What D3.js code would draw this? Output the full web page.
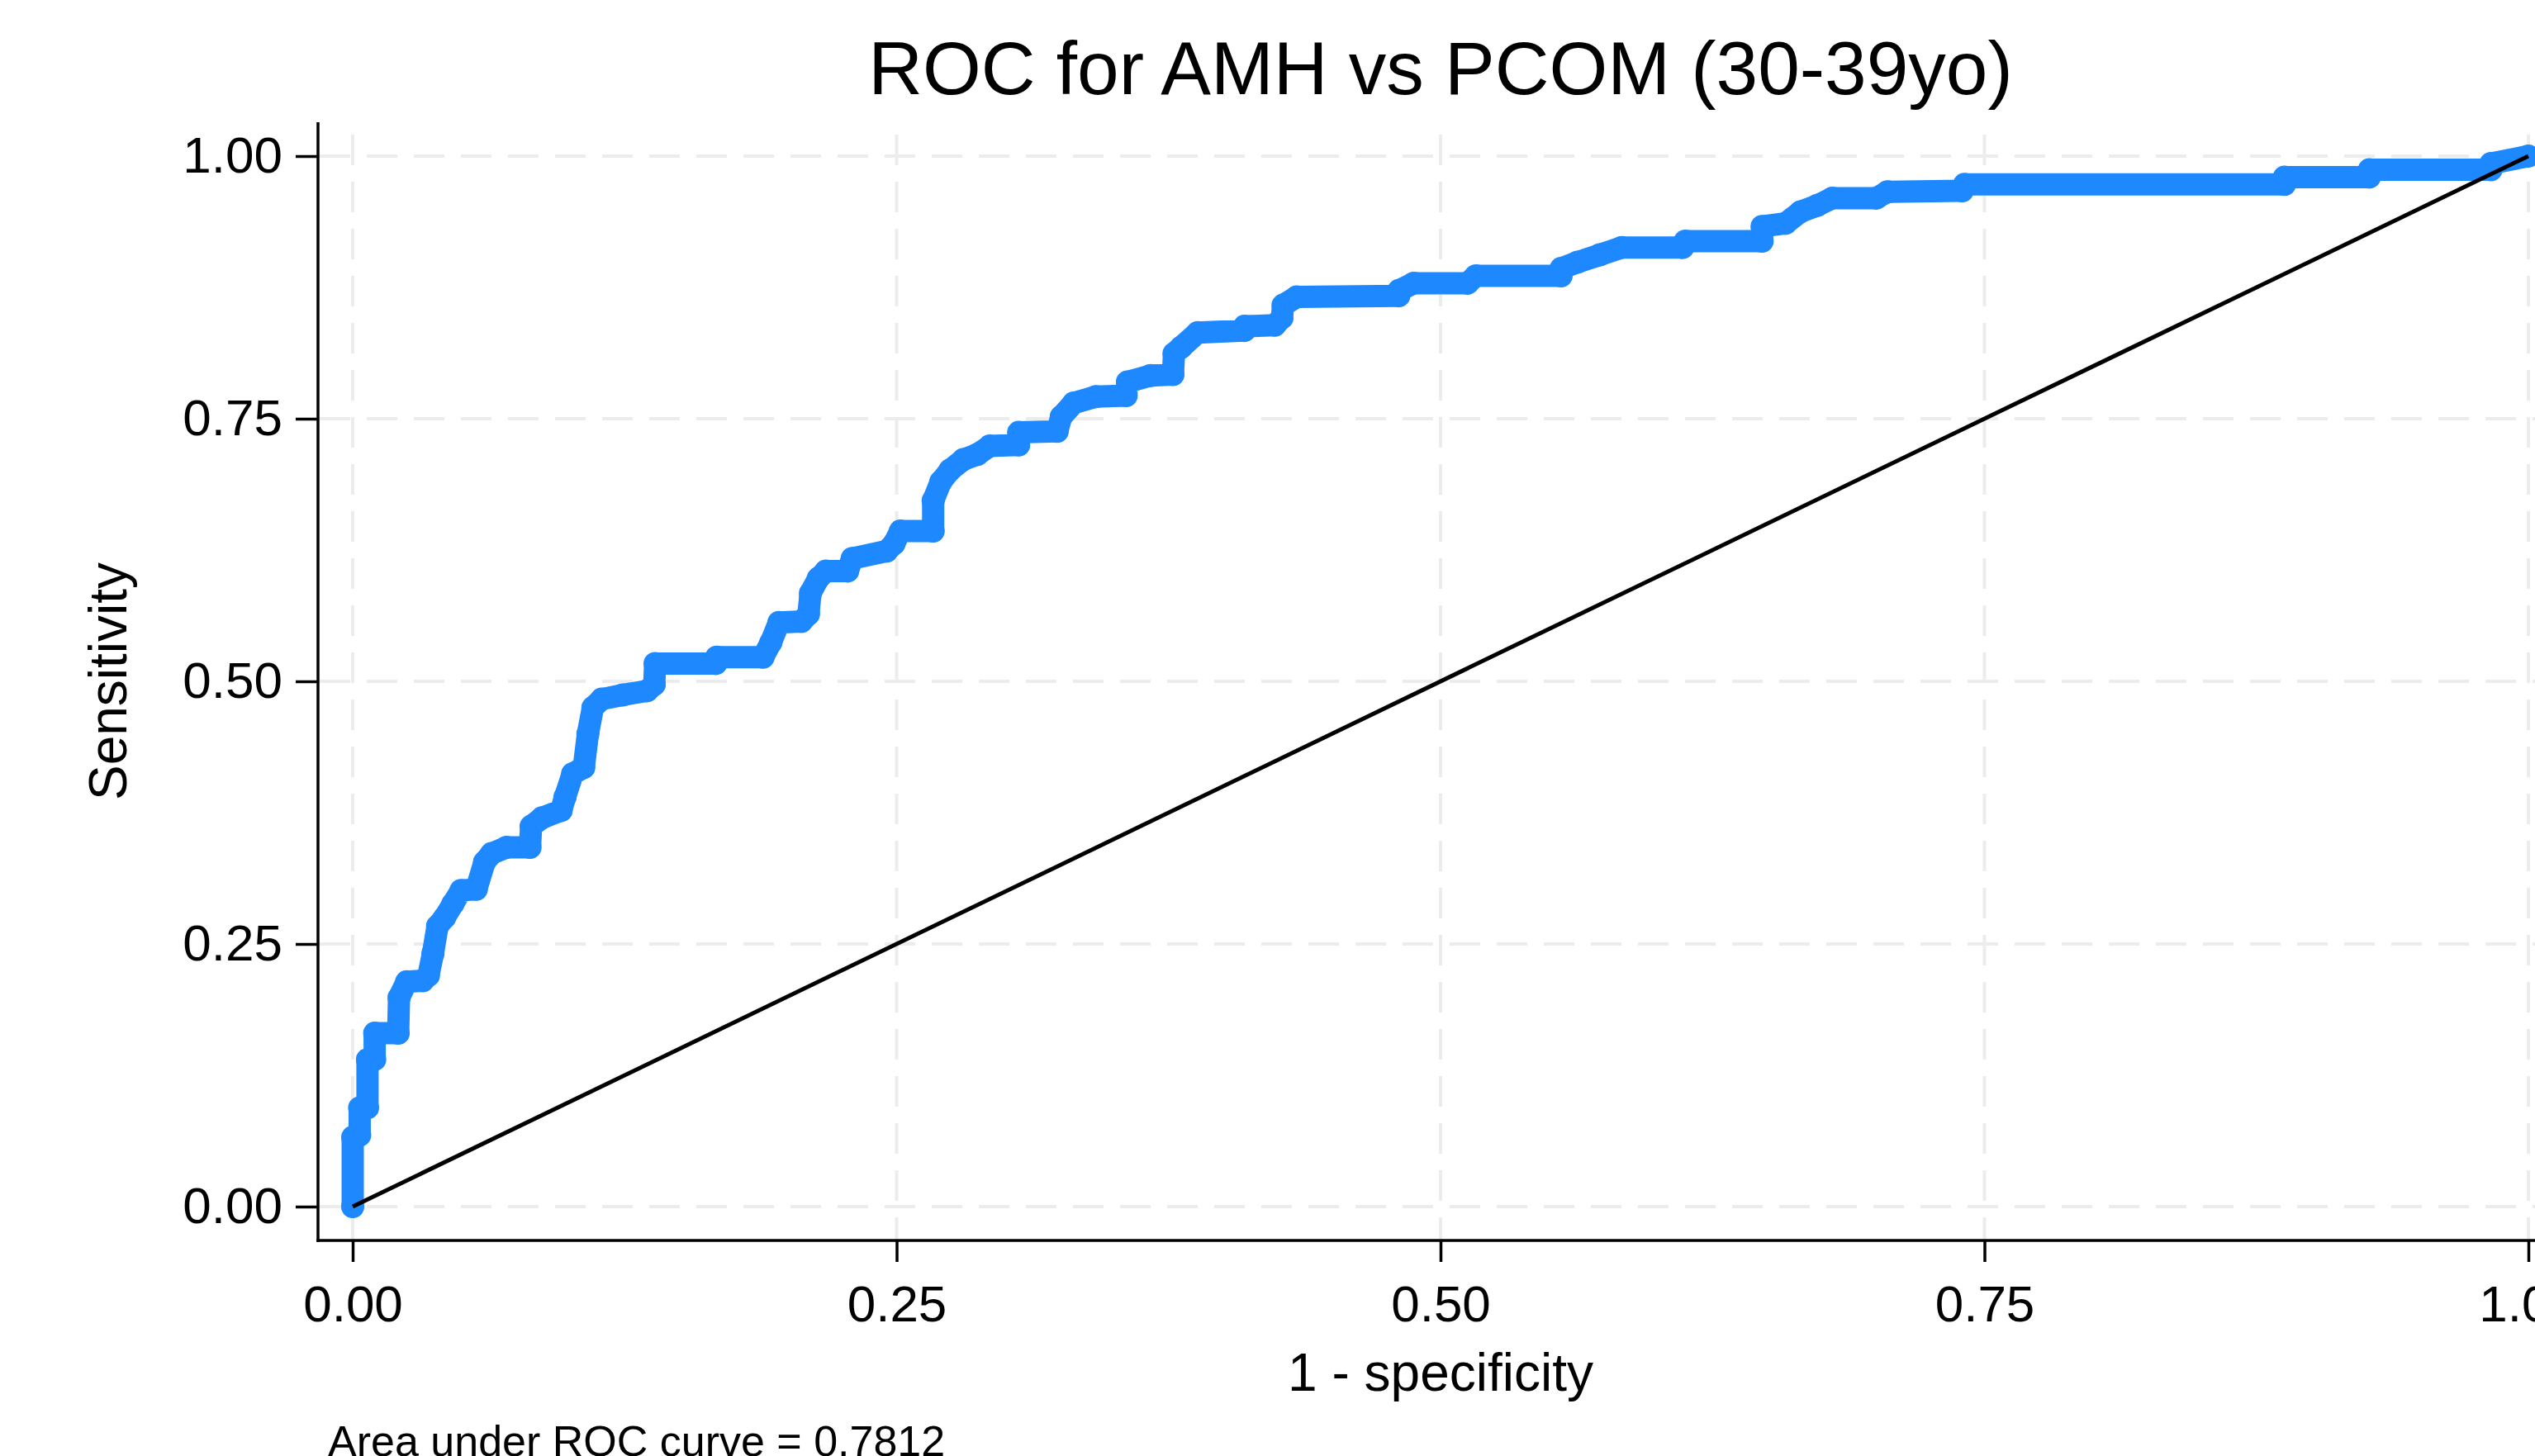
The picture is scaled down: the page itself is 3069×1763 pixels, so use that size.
<!DOCTYPE html>
<html>
<head>
<meta charset="utf-8">
<script src="https://cdn.jsdelivr.net/npm/d3@7"></script>
<style>
  body { margin: 0; background: #fff; }
  text { font-family: "Liberation Sans", Arial, Helvetica, sans-serif; fill: #000; }
</style>
</head>
<body>
<svg id="chart"></svg>
<script>
// ROC points: 1 - specificity (fpr) and sensitivity (tpr)
var fpr = [0, 0, 0.0032, 0.0032, 0.0068, 0.0068, 0.0101, 0.0101, 0.0209, 0.0213,
  0.0248, 0.0322, 0.0348, 0.0369, 0.0390, 0.0422, 0.0460, 0.0498, 0.0568, 0.0606,
  0.0638, 0.0707, 0.0815, 0.0820, 0.0870, 0.0958, 0.0976, 0.1011, 0.1062, 0.1081,
  0.1104, 0.1144, 0.1241, 0.1353, 0.1386, 0.1390, 0.1669, 0.1673, 0.1886, 0.1922,
  0.1959, 0.2062, 0.2095, 0.2104, 0.2140, 0.2175, 0.2275, 0.2296, 0.2454, 0.2488,
  0.2517, 0.2668, 0.2668, 0.2703, 0.2745, 0.2806, 0.2871, 0.2928, 0.3061, 0.3061,
  0.3238, 0.3257, 0.3314, 0.3416, 0.3555, 0.3561, 0.3667, 0.3770, 0.3775, 0.3808,
  0.3884, 0.4099, 0.4099, 0.4238, 0.4271, 0.4276, 0.4339, 0.4808, 0.4808, 0.4877,
  0.5124, 0.5162, 0.5554, 0.5554, 0.5630, 0.5732, 0.5833, 0.6113, 0.6124, 0.6478,
  0.6478, 0.6586, 0.6655, 0.6731, 0.6801, 0.7003, 0.7054, 0.7398, 0.7408, 0.8879,
  0.8879, 0.9269, 0.9269, 0.9828, 0.9828, 1];
var tpr = [0, 0.066, 0.068, 0.094, 0.094, 0.140, 0.140, 0.165, 0.165, 0.199,
  0.214, 0.215, 0.220, 0.241, 0.267, 0.275, 0.288, 0.301, 0.302, 0.328,
  0.336, 0.342, 0.342, 0.362, 0.370, 0.377, 0.390, 0.412, 0.418, 0.450,
  0.475, 0.483, 0.487, 0.491, 0.497, 0.517, 0.517, 0.523, 0.523, 0.537,
  0.556, 0.557, 0.564, 0.584, 0.598, 0.605, 0.605, 0.617, 0.624, 0.631,
  0.643, 0.643, 0.672, 0.690, 0.701, 0.711, 0.716, 0.724, 0.725, 0.737,
  0.738, 0.752, 0.765, 0.771, 0.772, 0.785, 0.791, 0.792, 0.812, 0.818,
  0.832, 0.834, 0.838, 0.839, 0.846, 0.858, 0.866, 0.867, 0.872, 0.879,
  0.879, 0.886, 0.886, 0.893, 0.899, 0.906, 0.913, 0.913, 0.919, 0.919,
  0.933, 0.936, 0.947, 0.953, 0.960, 0.960, 0.966, 0.967, 0.973, 0.973,
  0.980, 0.980, 0.987, 0.987, 0.993, 1];
var refLine = [[0, 0], [1, 1]];
var ticks = [0, 0.25, 0.5, 0.75, 1];

var titleText = "ROC for AMH vs PCOM (30-39yo)";
var xTitle = "1 - specificity";
var yTitle = "Sensitivity";
var note = "Area under ROC curve = 0.7812";

var width = 3069, height = 1763;
var blue = "#1e88ff";

var svg = d3.select("#chart")
    .attr("width", width)
    .attr("height", height);

var x = d3.scaleLinear().domain([0, 1]).range([427, 3061]);
var y = d3.scaleLinear().domain([0, 1]).range([1461, 189]);

var axisX = 385, axisY = 1502, plotTop = 148;

// gridlines
var grid = svg.append("g")
    .attr("stroke", "#ececec")
    .attr("stroke-width", 4)
    .attr("stroke-dasharray", "37 20");

grid.selectAll(".hg").data(ticks).enter().append("line")
    .attr("x1", axisX + 2).attr("x2", width + 40)
    .attr("y1", function (d) { return y(d); })
    .attr("y2", function (d) { return y(d); });

grid.selectAll(".vg").data(ticks).enter().append("line")
    .attr("x1", function (d) { return x(d); })
    .attr("x2", function (d) { return x(d); })
    .attr("y1", 163).attr("y2", axisY);

// axes
var yAxis = d3.axisLeft(y).tickValues(ticks).tickFormat(d3.format(".2f"))
    .tickSize(27).tickPadding(16);
var xAxis = d3.axisBottom(x).tickValues(ticks).tickFormat(d3.format(".2f"))
    .tickSize(26).tickPadding(28);

var gy = svg.append("g").attr("transform", "translate(" + axisX + ",0)").call(yAxis);
var gx = svg.append("g").attr("transform", "translate(0," + axisY + ")").call(xAxis);

[gy, gx].forEach(function (g) {
    g.select(".domain").remove();
    g.selectAll(".tick line").attr("stroke", "#000").attr("stroke-width", 3.5);
    g.selectAll(".tick text")
        .style("font-family", '"Liberation Sans", Arial, sans-serif')
        .style("font-size", "62px")
        .attr("fill", "#000");
});

svg.append("line")
    .attr("x1", axisX).attr("x2", axisX)
    .attr("y1", plotTop).attr("y2", axisY + 1.75)
    .attr("stroke", "#000").attr("stroke-width", 3.5);
svg.append("line")
    .attr("x1", axisX - 1.75).attr("x2", width + 10)
    .attr("y1", axisY).attr("y2", axisY)
    .attr("stroke", "#000").attr("stroke-width", 3.5);

// ROC curve (dense markers merge into a thick band)
var pts = fpr.map(function (d, i) { return [d, tpr[i]]; });
var line = d3.line()
    .x(function (d) { return x(d[0]); })
    .y(function (d) { return y(d[1]); });

svg.append("path")
    .datum(pts)
    .attr("d", line)
    .attr("fill", "none")
    .attr("stroke", blue)
    .attr("stroke-width", 27)
    .attr("stroke-linejoin", "round")
    .attr("stroke-linecap", "round");

svg.append("g").selectAll("circle")
    .data(pts)
    .enter()
    .append("circle")
    .attr("cx", function (d) { return x(d[0]); })
    .attr("cy", function (d) { return y(d[1]); })
    .attr("r", 14)
    .attr("fill", blue);

// reference diagonal
svg.append("path")
    .datum(refLine)
    .attr("d", line)
    .attr("fill", "none")
    .attr("stroke", "#000")
    .attr("stroke-width", 5);

// texts
svg.append("text")
    .attr("x", 1744).attr("y", 114)
    .attr("text-anchor", "middle")
    .style("font-size", "91px")
    .text(titleText);

svg.append("text")
    .attr("x", 1744).attr("y", 1684)
    .attr("text-anchor", "middle")
    .style("font-size", "64px")
    .text(xTitle);

svg.append("text")
    .attr("transform", "translate(153,825) rotate(-90)")
    .attr("text-anchor", "middle")
    .style("font-size", "64px")
    .text(yTitle);

svg.append("text")
    .attr("x", 397).attr("y", 1763)
    .style("font-size", "52px")
    .text(note);
</script>
</body>
</html>
